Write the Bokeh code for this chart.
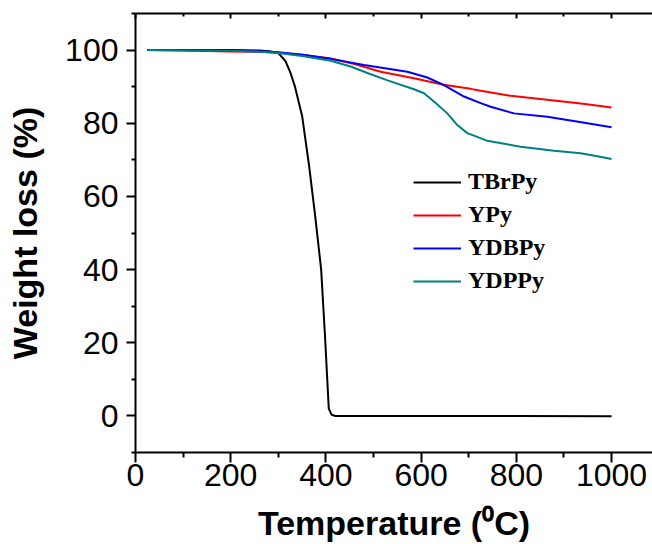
from bokeh.plotting import figure
from bokeh.models import FixedTicker, LinearAxis, Range1d, Legend, LegendItem
from bokeh.embed import file_html
from bokeh.resources import INLINE

# ---- data ----
t_tbrpy = [25, 100, 200, 260, 280, 300, 315, 325, 335, 350, 365, 378, 390, 398, 406, 412, 420, 600, 800, 1000]
w_tbrpy = [100, 100, 100, 99.9, 99.7, 99.2, 97, 94, 90, 82, 68, 54, 40, 22, 2, 0.3, 0, 0, 0, -0.1]

t_ypy = [25, 100, 200, 270, 300, 350, 410, 460, 515, 585, 647, 704, 725, 788, 879, 940, 1000]
w_ypy = [100, 99.9, 99.6, 99.5, 99.3, 98.7, 97.7, 96.2, 94.1, 92.3, 90.5, 89.4, 88.9, 87.5, 86.2, 85.3, 84.3]

t_ydbpy = [25, 100, 200, 270, 300, 350, 410, 480, 571, 613, 647, 690, 725, 746, 795, 865, 930, 1000]
w_ydbpy = [100, 100, 99.8, 99.6, 99.4, 98.7, 97.6, 95.9, 94.1, 92.5, 90.5, 87.3, 85.5, 84.5, 82.7, 81.8, 80.4, 78.9]

t_ydppy = [25, 100, 200, 270, 300, 350, 410, 452, 490, 528, 585, 606, 630, 655, 676, 697, 715, 739, 809, 879, 935, 970, 1000]
w_ydppy = [100, 99.9, 99.8, 99.5, 99.2, 98.4, 97.1, 95.5, 93.6, 91.8, 89.3, 88.2, 85.6, 82.7, 79.5, 77.3, 76.4, 75.2, 73.6, 72.5, 71.8, 71, 70.2]

names = ["TBrPy", "YPy", "YDBPy", "YDPPy"]
colors = ["#000000", "#ff0000", "#0000ff", "#008080"]

x_major = [0, 200, 400, 600, 800, 1000]
x_minor = [100, 300, 500, 700, 900]
y_major = [0, 20, 40, 60, 80, 100]
y_minor = [-10, 10, 30, 50, 70, 90, 110]

p = figure(width=652, height=544, output_backend="svg", toolbar_location=None,
           x_range=Range1d(0, 1086), y_range=Range1d(-10, 110),
           min_border_left=135, min_border_right=0, min_border_top=13, min_border_bottom=91,
           x_axis_location=None, y_axis_location=None)
p.outline_line_color = None
p.xgrid.visible = False
p.ygrid.visible = False
p.background_fill_color = "white"
p.border_fill_color = "white"

TICK_FONT = "Liberation Sans"

def style_axis(ax):
    ax.axis_line_width = 2
    ax.axis_line_color = "black"
    ax.major_tick_line_width = 2
    ax.minor_tick_line_width = 2
    ax.major_tick_line_color = "black"
    ax.minor_tick_line_color = "black"
    ax.major_label_text_font = TICK_FONT
    ax.major_label_text_font_size = "32px"
    ax.major_label_text_color = "black"
    ax.axis_label_text_font = TICK_FONT
    ax.axis_label_text_font_style = "bold"
    ax.axis_label_text_font_size = "34px"
    ax.axis_label_text_color = "black"

xb = LinearAxis(ticker=FixedTicker(ticks=x_major, minor_ticks=x_minor))
style_axis(xb)
xb.major_tick_out = 10
xb.major_tick_in = 0
xb.minor_tick_out = 5
xb.minor_tick_in = 0
xb.major_label_standoff = 1
xb.axis_label = "Temperature (\u2070C)"
xb.axis_label_standoff = 15
p.add_layout(xb, "below")

xt = LinearAxis(ticker=FixedTicker(ticks=x_major, minor_ticks=x_minor))
style_axis(xt)
xt.major_tick_out = 0
xt.major_tick_in = 5
xt.minor_tick_out = 0
xt.minor_tick_in = 3
xt.major_label_text_font_size = "0px"
xt.major_label_standoff = 0
xt.major_label_text_alpha = 0
p.add_layout(xt, "above")

yl = LinearAxis(ticker=FixedTicker(ticks=y_major, minor_ticks=y_minor))
style_axis(yl)
yl.major_tick_out = 9
yl.major_tick_in = 0
yl.minor_tick_out = 4
yl.minor_tick_in = 0
yl.major_label_standoff = 8
yl.axis_label = "Weight loss (%)"
yl.axis_label_standoff = 18
p.add_layout(yl, "left")

renderers = []
for t, w, c in zip([t_tbrpy, t_ypy, t_ydbpy, t_ydppy],
                   [w_tbrpy, w_ypy, w_ydbpy, w_ydppy], colors):
    r = p.line(t, w, line_color=c, line_width=2)
    renderers.append(r)

legend = Legend(items=[LegendItem(label=n, renderers=[r]) for n, r in zip(names, renderers)],
                location=(278, 158), orientation="vertical",
                border_line_color=None, background_fill_alpha=0,
                label_text_font="Liberation Serif", label_text_font_style="bold",
                label_text_font_size="24px", label_text_color="black",
                glyph_width=48, glyph_height=26, label_height=26, spacing=6,
                label_standoff=7, padding=0, margin=0)
p.add_layout(legend, "center")

open("out.html", "w").write(file_html(p, INLINE))
